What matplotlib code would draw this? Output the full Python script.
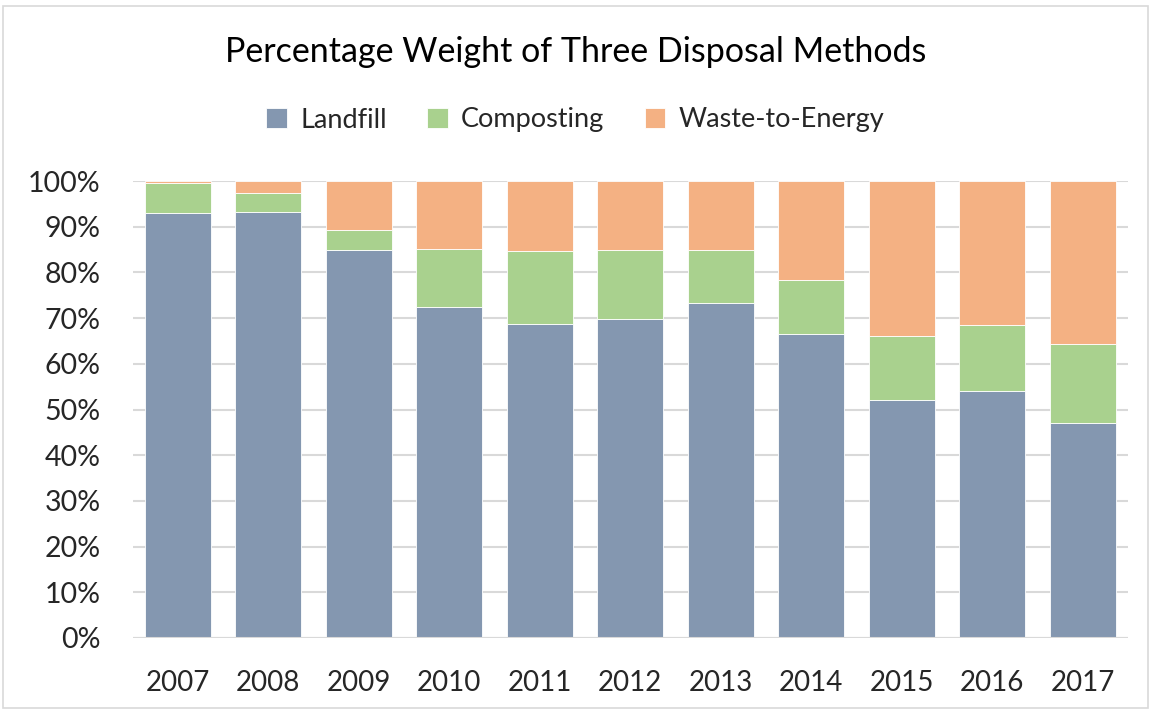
import matplotlib
matplotlib.use("Agg")
import matplotlib.pyplot as plt
from matplotlib.patches import Rectangle
import numpy as np

years = ["2007", "2008", "2009", "2010", "2011", "2012", "2013", "2014", "2015", "2016", "2017"]
landfill = [93.0, 93.2, 84.9, 72.4, 68.8, 69.8, 73.3, 66.6, 52.0, 54.0, 47.1]
composting = [6.6, 4.1, 4.3, 12.8, 15.8, 15.0, 11.7, 11.8, 14.0, 14.4, 17.3]
waste_to_energy = [round(100 - a - b, 1) for a, b in zip(landfill, composting)]

colors = ["#8497B0", "#A9D18E", "#F4B183"]
labels = ["Landfill", "Composting", "Waste-to-Energy"]

plt.rcParams['font.family'] = ['Lato', 'DejaVu Sans']

fig = plt.figure(figsize=(11.51, 7.11), dpi=100)
ax = fig.add_axes([132.5 / 1151, 1 - 638 / 711, (1128 - 132.5) / 1151, 457 / 711])

x = np.arange(len(years))
w = 0.73
ax.bar(x, landfill, w, color=colors[0], label=labels[0], edgecolor="white", linewidth=0.6, zorder=3)
ax.bar(x, composting, w, bottom=landfill, color=colors[1], label=labels[1], edgecolor="white", linewidth=0.6, zorder=3)
bottom2 = [a + b for a, b in zip(landfill, composting)]
ax.bar(x, waste_to_energy, w, bottom=bottom2, color=colors[2], label=labels[2], edgecolor="white", linewidth=0.6, zorder=3)

ax.set_xlim(-0.5, len(years) - 0.5)
ax.set_ylim(0, 100)
ax.set_yticks(range(0, 101, 10))
ax.set_yticklabels([f"{v}%" for v in range(0, 101, 10)], fontsize=20.5, color="#262626")
ax.set_xticks(x)
ax.set_xticklabels(years, fontsize=20, color="#262626")
ax.tick_params(axis="both", length=0)
ax.tick_params(axis="x", pad=23)
ax.tick_params(axis="y", pad=23)
ax.grid(axis="y", color="#D9D9D9", linewidth=1.5, zorder=0)
for s in ax.spines.values():
    s.set_visible(False)
ax.axhline(0, color="#D9D9D9", linewidth=1.5, zorder=4)

fig.text(0.5, 1 - 52 / 711, "Percentage Weight of Three Disposal Methods",
         ha="center", va="center", fontsize=24.5, color="black")

handles, lbls = ax.get_legend_handles_labels()
fig.legend(handles, lbls, loc="center", bbox_to_anchor=(0.5, 1 - 120 / 711), ncol=3,
           frameon=False, fontsize=19.5, handlelength=0.75, handleheight=0.75,
           columnspacing=1.5, handletextpad=0.5, labelcolor="#262626")

fig.add_artist(Rectangle((3 / 1151, 3 / 711), 1145 / 1151, 702 / 711, transform=fig.transFigure,
                         fill=False, edgecolor="#D9D9D9", linewidth=1.2))

fig.savefig("out.png", dpi=100)
